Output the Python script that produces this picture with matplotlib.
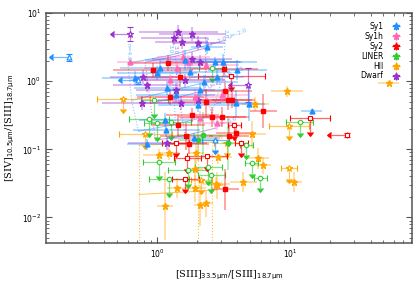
import numpy as np
import matplotlib
matplotlib.use("Agg")
import matplotlib.pyplot as plt

# ---- data (ratio values, error half-widths in dex) ----
# lim: 0 = detection, 1 = upper limit in y (down arrow), 2 = upper limit in x (left arrow)
sy1_x = [2.37, 3.13, 3.99, 3.92, 4.92, 14.4, 2.83, 2.25, 2.03, 0.684, 1.05, 1.0, 1.19, 1.15, 1.17, 0.84, 1.87, 1.62, 1.77, 2.10, 1.37, 2.73, 0.218, 0.71, 2.73]
sy1_y = [3.16, 1.90, 1.45, 0.475, 0.459, 0.362, 1.145, 0.967, 0.444, 1.107, 1.55, 1.31, 0.789, 0.267, 0.190, 0.119, 0.145, 2.04, 1.36, 0.737, 0.62, 1.90, 2.25, 1.03, 0.136]
sy1_dx = [0.12, 0.25, 0.22, 0.15, 0.12, 0.08, 0.2, 0.25, 0.3, 0.25, 0.3, 0.3, 0.25, 0.2, 0.25, 0.15, 0.2, 0.3, 0.3, 0.25, 0.3, 0.2, 0.08, 0.06, 0.1]
sy1_dy = [0.1, 0.12, 0.15, 0.2, 0.25, 0.03, 0.12, 0.1, 0.1, 0.1, 0.12, 0.1, 0.1, 0.1, 0.1, 0.08, 0.08, 0.15, 0.1, 0.1, 0.1, 0.08, 0.05, 0.05, 0.15]
sy1_lim = [0] * 22 + [2, 2, 1]

sy1h_x = [0.627, 1.57, 1.41, 1.93, 2.10, 2.83, 1.71, 2.30, 1.25, 3.08]
sy1h_y = [1.90, 2.25, 1.55, 0.582, 0.286, 0.241, 1.90, 1.72, 1.03, 0.62]
sy1h_dx = [0.1, 0.2, 0.25, 0.3, 0.15, 0.15, 0.3, 0.25, 0.3, 0.2]
sy1h_dy = [0.06, 0.1, 0.1, 0.12, 0.1, 0.1, 0.1, 0.1, 0.1, 0.1]
sy1h_lim = [0] * 10

sy2_x = [0.933, 1.21, 1.25, 1.49, 1.83, 3.19, 3.24, 3.42, 3.66, 2.30, 6.27, 1.44, 1.65, 1.74, 2.59, 3.08, 3.48, 3.92, 3.24,
         3.60, 14.1, 1.37, 3.79, 4.28, 1.68, 2.37, 1.62, 26.8]
sy2_y = [1.45, 1.84, 0.582, 1.145, 0.316, 1.50, 0.713, 0.526, 0.526, 0.491, 0.362, 0.225, 0.155, 0.119, 0.296, 0.296, 0.155, 0.172, 0.026,
         1.18, 0.286, 0.123, 0.225, 0.123, 0.0738, 0.079, 0.0365, 0.160]
sy2_dx = [0.3, 0.3, 0.25, 0.25, 0.2, 0.25, 0.2, 0.2, 0.15, 0.25, 0.1, 0.2, 0.2, 0.15, 0.25, 0.2, 0.15, 0.15, 0.1,
          0.25, 0.15, 0.1, 0.05, 0.05, 0.1, 0.15, 0.1, 0.08]
sy2_dy = [0.1, 0.12, 0.12, 0.15, 0.1, 0.1, 0.12, 0.15, 0.12, 0.2, 0.25, 0.15, 0.2, 0.15, 0.15, 0.15, 0.15, 0.12, 0.3,
          0.15, 0.2, 0.15, 0.12, 0.15, 0.15, 0.15, 0.15, 0.03]
sy2_lim = [0] * 19 + [1] * 8 + [2]

liner_x = [2.22, 3.42, 2.03, 0.949, 0.871, 1.0, 1.27, 1.035, 1.23, 1.71, 2.42, 2.55, 4.67, 5.10, 5.95, 11.7, 2.59]
liner_y = [0.160, 0.123, 0.136, 0.526, 0.276, 0.241, 0.249, 0.0644, 0.0365, 0.0492, 0.0544, 0.0418, 0.115, 0.0623, 0.0377, 0.249, 1.55]
liner_dx = [0.2, 0.05, 0.15, 0.1, 0.15, 0.1, 0.15, 0.12, 0.15, 0.15, 0.1, 0.1, 0.05, 0.05, 0.05, 0.1, 0.1]
liner_dy = [0.35, 0.4, 0.3, 0.2, 0.2, 0.2, 0.2, 0.2, 0.2, 0.2, 0.2, 0.2, 0.15, 0.15, 0.15, 0.15, 0.15]
liner_lim = [0, 0, 0] + [1] * 14

hii_x = [9.49, 54.6, 5.46, 5.18, 5.74, 6.27, 10.7, 4.43, 2.78, 2.33, 1.035, 1.23, 1.965, 2.87, 1.93, 2.83, 1.93, 1.41, 1.15, 2.10,
         0.555, 9.83, 0.812, 3.36, 2.14, 9.83]
hii_y = [0.713, 0.95, 0.459, 0.166, 0.0738, 0.0582, 0.0329, 0.0329, 0.0307, 0.0162, 0.0817, 0.0872, 0.0872, 0.0763, 0.0509, 0.0297, 0.0268, 0.0268, 0.0146, 0.0151,
         0.544, 0.218, 0.166, 0.123, 0.0354, 0.0526]
hii_dx = [0.12, 0.08, 0.1, 0.1, 0.08, 0.06, 0.06, 0.1, 0.1, 0.05, 0.12, 0.08, 0.06, 0.1, 0.06, 0.06, 0.08, 0.08, 0.06, 0.05,
          0.2, 0.15, 0.2, 0.1, 0.08, 0.06]
hii_dy = [0.08, 0.02, 0.1, 0.2, 0.15, 0.12, 0.15, 0.15, 0.1, 0.2, 0.1, 0.1, 0.15, 0.1, 0.15, 0.2, 0.2, 0.15, 0.5, 0.3,
          0.15, 0.15, 0.15, 0.15, 0.15, 0.15]
hii_lim = [0] * 20 + [1] * 6

dw_x = [1.44, 1.34, 1.52, 1.83, 2.03, 1.83, 0.785, 0.83, 0.771, 1.19, 1.62, 1.37, 2.10, 2.03, 1.50, 0.627, 4.83]
dw_y = [5.26, 4.29, 3.75, 4.91, 3.62, 2.11, 1.145, 0.873, 0.475, 0.123, 1.03, 0.74, 1.90, 0.526, 0.475, 4.91, 0.873]
dw_dx = [0.3, 0.25, 0.2, 0.25, 0.2, 0.3, 0.25, 0.25, 0.3, 0.3, 0.3, 0.3, 0.3, 0.3, 0.3, 0.06, 0.05]
dw_dy = [0.1, 0.1, 0.1, 0.1, 0.1, 0.1, 0.1, 0.1, 0.1, 0.1, 0.1, 0.1, 0.1, 0.1, 0.1, 0.1, 0.25]
dw_lim = [0] * 15 + [2, 2]

# photoionisation model grids: rows log U = -2.0, -2.5, -3.0 ; cols log n = 4.0, 3.0, 2.0
agn_gx = [[0.60, 1.25, 3.24], [0.64, 1.32, 3.08], [0.72, 1.37, 2.55]]
agn_gy = [[1.84, 2.41, 4.0], [0.526, 0.737, 1.107], [0.184, 0.233, 0.316]]
dw_gx = [[0.81, 1.365, 2.30], [0.886, 1.438, 2.30], [0.966, 1.624, 2.73]]
dw_gy = [[1.90, 2.33, 3.06], [0.475, 0.582, 0.737], [0.136, 0.160, 0.204]]
hii_gx = [[0.73, 2.03, 2.59], [0.73, 2.03, 2.59], [0.73, 2.03, 2.59]]
hii_gy = [[0.115, 0.123, 0.128], [0.0218, 0.0242, 0.0255], [0.003, 0.003, 0.003]]
u_labels = ["U=-2.0", "U=-2.5", "U=-3.0"]
n_labels = ["n=4.0", "3.0", "2.0"]

c_sy1 = "#1E8FFF"
c_sy1h = "#FF69B4"
c_sy2 = "#FF0000"
c_liner = "#32CD32"
c_hii = "#FFA500"
c_dw = "#9932CC"

fig = plt.figure(figsize=(4.2, 2.85), dpi=100)
ax = fig.add_axes([0.11, 0.147, 0.871, 0.807])
ax.set_xscale("log")
ax.set_yscale("log")


def draw_grid(gx, gy, col, ulab, nlab):
    gx = np.array(gx)
    gy = np.array(gy)
    for i in range(gx.shape[0]):
        ax.plot(gx[i], gy[i], "-", color=col, lw=0.7, alpha=0.7, zorder=1)
    for j in range(gx.shape[1]):
        ax.plot(gx[:, j], gy[:, j], ":", color=col, lw=0.8, alpha=0.7, zorder=1)
    for i, lab in enumerate(ulab):
        if lab:
            ax.text(gx[i, -1] * 1.03, gy[i, -1] * 1.02, lab, color=col, fontsize=4.2,
                    rotation=22, va="bottom", ha="left", alpha=0.85)
    for j, lab in enumerate(nlab):
        if lab:
            ax.text(gx[0, j], gy[0, j] * 1.08, lab, color=col, fontsize=4.2,
                    rotation=-90, va="bottom", ha="center", alpha=0.85)


draw_grid(agn_gx, agn_gy, "#5AAFFF", ["U=-2.0", "U=-2.5", ""], n_labels)
draw_grid(dw_gx, dw_gy, "#B36BE0", u_labels, ["", "3.0", "2.0"])
draw_grid(hii_gx, hii_gy, c_hii, ["2.5", "3.0", ""], ["", "", ""])


def draw_class(xs, ys, dxs, dys, lims, col, mk, ms):
    xs = np.array(xs)
    ys = np.array(ys)
    dxs = np.array(dxs)
    dys = np.array(dys)
    lims = np.array(lims)
    xerr = np.vstack([xs - xs * 10 ** (-dxs), xs * 10 ** dxs - xs])
    yerr = np.vstack([ys - ys * 10 ** (-dys), ys * 10 ** dys - ys])
    d = lims == 0
    c = ax.errorbar(xs[d], ys[d], xerr=xerr[:, d], yerr=yerr[:, d], fmt=mk, color=col,
                    ms=ms, mec=col, ecolor=col, elinewidth=1.1, capsize=0, zorder=3)
    for h in c.lines[2]:
        h.set_alpha(0.45)
    u = lims == 1
    if u.any():
        ye = np.vstack([ys[u] - ys[u] * 10 ** (-np.maximum(dys[u], 0.15)), np.zeros(u.sum())])
        c = ax.errorbar(xs[u], ys[u], xerr=xerr[:, u], yerr=ye, uplims=True, fmt=mk, color=col,
                        ms=ms, mfc="white", mec=col, mew=0.8, ecolor=col, elinewidth=0.9,
                        capsize=2, zorder=3)
        for h in c.lines[2]:
            h.set_alpha(0.6)
    l = lims == 2
    if l.any():
        xe = np.vstack([xs[l] - xs[l] * 10 ** (-0.12), np.zeros(l.sum())])
        c = ax.errorbar(xs[l], ys[l], xerr=xe, yerr=yerr[:, l], xuplims=True, fmt=mk, color=col,
                        ms=ms, mfc="white", mec=col, mew=0.8, ecolor=col, elinewidth=0.9,
                        capsize=2, zorder=3)
        for h in c.lines[2]:
            h.set_alpha(0.6)


draw_class(hii_x, hii_y, hii_dx, hii_dy, hii_lim, c_hii, "*", 5)
draw_class(liner_x, liner_y, liner_dx, liner_dy, liner_lim, c_liner, "o", 3.2)
draw_class(dw_x, dw_y, dw_dx, dw_dy, dw_lim, c_dw, "*", 5)
draw_class(sy2_x, sy2_y, sy2_dx, sy2_dy, sy2_lim, c_sy2, "s", 3.2)
draw_class(sy1h_x, sy1h_y, sy1h_dx, sy1h_dy, sy1h_lim, c_sy1h, "^", 3.5)
draw_class(sy1_x, sy1_y, sy1_dx, sy1_dy, sy1_lim, c_sy1, "^", 3.5)

# legend handles
handles = []
names = ["Sy1", "Sy1h", "Sy2", "LINER", "HII", "Dwarf"]
cols = [c_sy1, c_sy1h, c_sy2, c_liner, c_hii, c_dw]
for nm, cc in zip(names, cols):
    h = ax.errorbar([np.nan], [np.nan], xerr=[[1]], yerr=[[1]], fmt="*", color=cc, ms=5,
                    elinewidth=0.9, capsize=0, label=nm)
    handles.append(h)
ax.legend(handles=handles, loc="upper right", bbox_to_anchor=(0.982, 0.985), fontsize=5.5,
          frameon=False, markerfirst=False, handlelength=1.0, labelspacing=0.12,
          borderaxespad=0.3, handletextpad=1.2)

ax.set_xlim(0.146, 82)
ax.set_ylim(0.0042, 10)

for s in ax.spines.values():
    s.set_color("#555555")
    s.set_linewidth(1.1)
ax.tick_params(which="both", direction="in", top=True, right=True, colors="#555555",
               labelcolor="black", labelsize=5.5)
ax.tick_params(which="major", length=4, width=0.8)
ax.tick_params(which="minor", length=2, width=0.6)

ax.set_xlabel(r"[SIII]$_{\mathrm{33.5\mu m}}$/[SIII]$_{\mathrm{18.7\mu m}}$",
              family="DejaVu Serif", fontsize=7, labelpad=6)
ax.set_ylabel(r"[SIV]$_{\mathrm{10.5\mu m}}$/[SIII]$_{\mathrm{18.7\mu m}}$",
              family="DejaVu Serif", fontsize=7, labelpad=4)

fig.savefig("out.png", dpi=100)
